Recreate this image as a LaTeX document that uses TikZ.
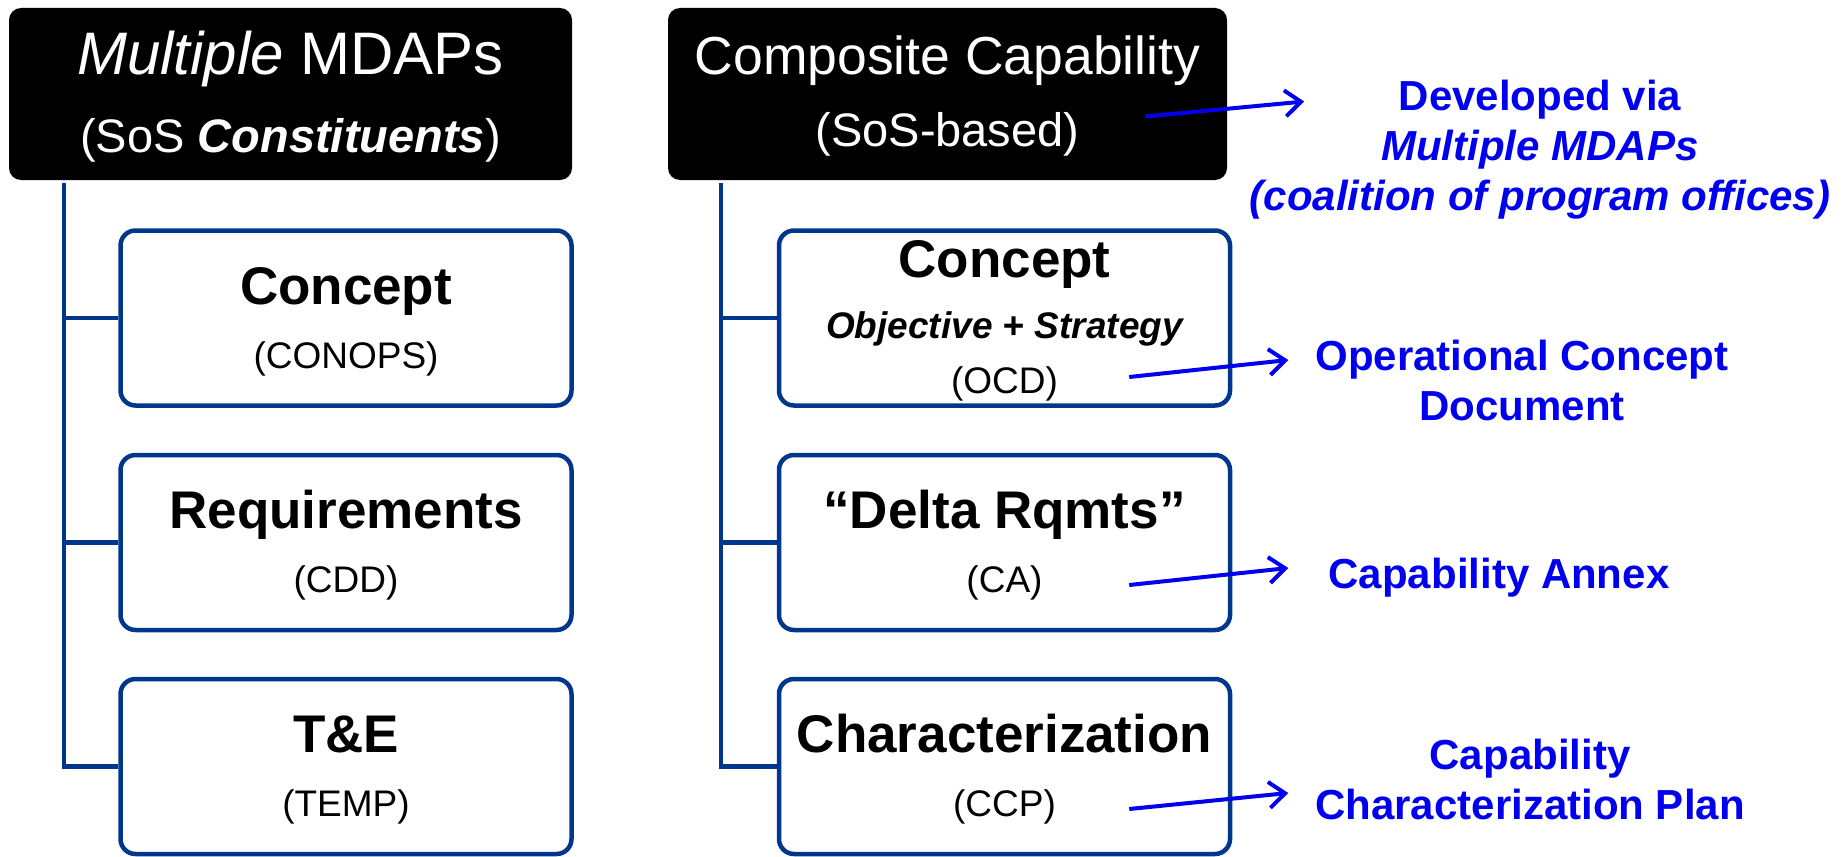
\documentclass[tikz,border=0pt]{standalone}
\usepackage{fontspec}
\setmainfont{Liberation Sans}
\usetikzlibrary{arrows.meta,positioning}
\definecolor{navy}{RGB}{0,54,140}
\definecolor{linkblue}{RGB}{0,0,238}
\tikzstyle{headbox} = [fill=black, rounded corners=12pt, minimum width=563pt, minimum height=172pt, inner sep=0pt]
\tikzstyle{headtext} = [text=white, anchor=base, inner sep=0pt]
\tikzstyle{stagebox} = [draw=navy, line width=4.5pt, fill=white, rounded corners=15pt, minimum width=451pt, minimum height=175pt, inner sep=0pt]
\tikzstyle{stagetitle} = [anchor=base, inner sep=0pt, font=\fontsize{53}{60}\selectfont\bfseries]
\tikzstyle{stagesub} = [anchor=base, inner sep=0pt, font=\fontsize{37}{44}\selectfont]
\tikzstyle{notetext} = [text=linkblue, align=center, inner sep=0pt, font=\fontsize{42}{50}\selectfont\bfseries]
\tikzstyle{branch} = [draw=navy, line width=4.5pt]
\tikzstyle{linkarrow} = [draw=linkblue, line width=4pt, -{Straight Barb[length=16pt,width=26pt]}]
\newcommand{\stagenode}[4]{%
\path #2 node (s#1) [stagebox] {};
\path (s#1.north)+(0,-76) node (s#1t) [stagetitle] {#3};
\path (s#1.north)+(0,-140) node (s#1s) [stagesub] {#4};}
\begin{document}
\begin{tikzpicture}[x=1pt,y=1pt]
\useasboundingbox (0,0) rectangle (1843,-856);
% black headers
\path (290.5,-94) node (h1) [headbox] {};
\path (h1.north)+(0,-67) node (h1a) [headtext, font=\fontsize{60}{70}\selectfont] {\textit{Multiple} MDAPs};
\path (h1.north)+(0,-145) node (h1b) [headtext, font=\fontsize{47}{55}\selectfont] {(SoS \textbf{\textit{Constituents}})};
\path (947.5,-94) node (h2) [headbox, minimum width=559pt] {};
\path (h2.north)+(0,-67) node (h2a) [headtext, font=\fontsize{53.5}{62}\selectfont] {Composite Capability};
\path (h2.north)+(0,-139) node (h2b) [headtext, font=\fontsize{47}{55}\selectfont] {(SoS-based)};
% left column
\stagenode{1}{(346,-318)}{Concept}{(CONOPS)}
\stagenode{2}{(346,-542.5)}{Requirements}{(CDD)}
\stagenode{3}{(346,-766.5)}{T\&E}{(TEMP)}
% right column
\path (1004.5,-318) node (s4) [stagebox] {};
\path (s4.north)+(0,-49) node (s4t) [stagetitle] {Concept};
\path (s4.north)+(0,-110) node (s4o) [stagesub, font=\fontsize{37}{44}\selectfont\bfseries\itshape] {Objective + Strategy};
\path (s4.north)+(0,-165) node (s4s) [stagesub] {(OCD)};
\stagenode{5}{(1004.5,-542.5)}{“Delta Rqmts”}{(CA)}
\stagenode{6}{(1004.5,-766.5)}{Characterization}{(CCP)}
% tree lines
\path (h1.south west)+(55,-3) coordinate (v1);
\draw[branch] (v1) |- (s3.west);
\draw[branch] (v1 |- s1.west) -- (s1.west);
\draw[branch] (v1 |- s2.west) -- (s2.west);
\path (h2.south west)+(53,-3) coordinate (v2);
\draw[branch] (v2) |- (s6.west);
\draw[branch] (v2 |- s4.west) -- (s4.west);
\draw[branch] (v2 |- s5.west) -- (s5.west);
% blue notes
\path (1540,-150) node (n1) [notetext] {Developed via\\\textit{Multiple MDAPs}\\\textit{(coalition of program offices)}};
\path (1522,-380) node (n2) [notetext] {Operational Concept\\Document};
\path (1499,-588) node (n3) [notetext, anchor=base] {Capability Annex};
\path (1530,-779) node (n4) [notetext] {Capability\\Characterization Plan};
% arrows
\path (h2.east)+(-82,-22.5) coordinate (a1);
\path (h2.east)+(77,-7.5) coordinate (b1);
\draw[linkarrow] (a1) -- (b1);
\path (s4.east)+(-103,-59) coordinate (a2);
\path (s4.east)+(56,-42) coordinate (b2);
\draw[linkarrow] (a2) -- (b2);
\path (s5.east)+(-103,-42.5) coordinate (a3);
\path (s5.east)+(56,-25.5) coordinate (b3);
\draw[linkarrow] (a3) -- (b3);
\path (s6.east)+(-103,-42.5) coordinate (a4);
\path (s6.east)+(56,-26.5) coordinate (b4);
\draw[linkarrow] (a4) -- (b4);
\end{tikzpicture}
\end{document}
